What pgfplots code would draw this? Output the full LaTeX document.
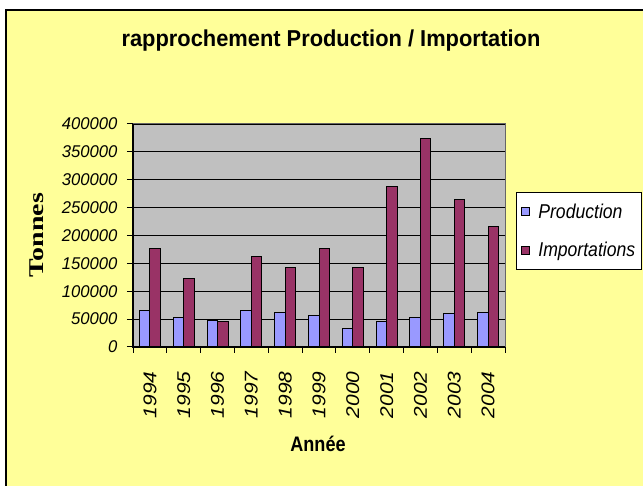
\documentclass[border=0pt]{standalone}
\usepackage{fontspec}
\usepackage{pgfplots}
\pgfplotsset{compat=1.18}
\setmainfont{Liberation Sans}
\newfontfamily\titlefont{Liberation Sans}[FakeStretch=0.95]
\newfontfamily\ytickfont{Liberation Sans}[FakeStretch=0.98]
\newfontfamily\xtickfont{Liberation Sans}
\newfontfamily\legfont{Liberation Sans}[FakeStretch=0.88]
\newfontfamily\xlabfont{Liberation Sans}[FakeStretch=0.86]
\newfontfamily\ylabfont{Liberation Serif}[FakeStretch=1.33]
\newcommand{\xl}[1]{\scalebox{1.13}[1]{#1}}
\definecolor{bg}{HTML}{FFFF99}
\definecolor{plotbg}{HTML}{C0C0C0}
\definecolor{prod}{HTML}{9999FF}
\definecolor{imp}{HTML}{993366}
\begin{document}
\begin{tikzpicture}
\path[use as bounding box] (0pt,0pt) rectangle (643pt,486pt);
\clip (0pt,0pt) rectangle (643pt,486pt);
\fill[white] (0pt,0pt) rectangle (643pt,486pt);
\filldraw[fill=bg, draw=black, line width=1.5pt] (6pt,-10pt) rectangle (660pt,476pt);
\begin{axis}[
  at={(133pt,139pt)}, anchor=south west,
  scale only axis, width=372pt, height=223pt,
  xmin=-0.5, xmax=10.5, ymin=0, ymax=400000,
  ybar=0pt, bar width=10.5pt,
  axis background/.style={fill=plotbg},
  axis line style={draw=gray!80!black, line width=1pt},
  xtick={0,...,10},
  xticklabels={\xl{1994},\xl{1995},\xl{1996},\xl{1997},\xl{1998},\xl{1999},\xl{2000},\xl{2001},\xl{2002},\xl{2003},\xl{2004}},
  major x tick style={draw=none},
  minor xtick={-0.5,0.5,...,10.5},
  minor x tick style={draw=black, line width=1pt},
  minor tick length=6pt,
  ytick={0,50000,...,400000},
  ytick style={draw=black, line width=1pt},
  major tick length=6pt,
  tick align=outside, tick pos=left,
  scaled y ticks=false,
  /pgf/number format/assume math mode=true,
  yticklabel style={/pgf/number format/fixed, /pgf/number format/1000 sep={}, font=\fontsize{17}{17}\ytickfont\itshape, xshift=-6pt},
  xticklabel style={rotate=90, anchor=east, font=\fontsize{18.5}{18.5}\xtickfont\itshape, xshift=-15pt},
  ymajorgrids, major grid style={black, line width=1.1pt},
  legend style={at={(rel axis cs:1.0296,0.695)}, anchor=north west, fill=white, draw=black, line width=1pt,
    font=\fontsize{20}{22}\legfont\itshape, row sep=19pt, inner xsep=4pt, inner ysep=9pt, cells={anchor=west}},
  legend image code/.code={\draw[#1, line width=0.7pt] (0pt,-4pt) rectangle (8pt,4pt); \path (15pt,0pt);},
  clip=false,
]
\addplot[fill=prod, draw=black, line width=1pt] coordinates {
 (0,65700) (1,52600) (2,48400) (3,66000) (4,62000) (5,56100) (6,32300) (7,46000) (8,52600) (9,59200) (10,62300)};
\addplot[fill=imp, draw=black, line width=1pt] coordinates {
 (0,176300) (1,123000) (2,46000) (3,163200) (4,142800) (5,176000) (6,142800) (7,287500) (8,373600) (9,263700) (10,217000)};
\legend{Production, Importations}
\draw[black, line width=1.3pt] (rel axis cs:0,1) -- (rel axis cs:0,0) -- (rel axis cs:1,0);
\end{axis}
\node[anchor=base, inner sep=0pt, font=\fontsize{23}{26}\titlefont\bfseries] at (331pt,439pt) {rapprochement Production / Importation};
\node[anchor=base, inner sep=0pt, font=\fontsize{21}{23}\xlabfont\bfseries] at (318pt,34pt) {Année};
\node[anchor=base, inner sep=0pt, rotate=90, font=\fontsize{21}{23}\ylabfont\bfseries] at (43pt,251pt) {Tonnes};
\end{tikzpicture}
\end{document}
